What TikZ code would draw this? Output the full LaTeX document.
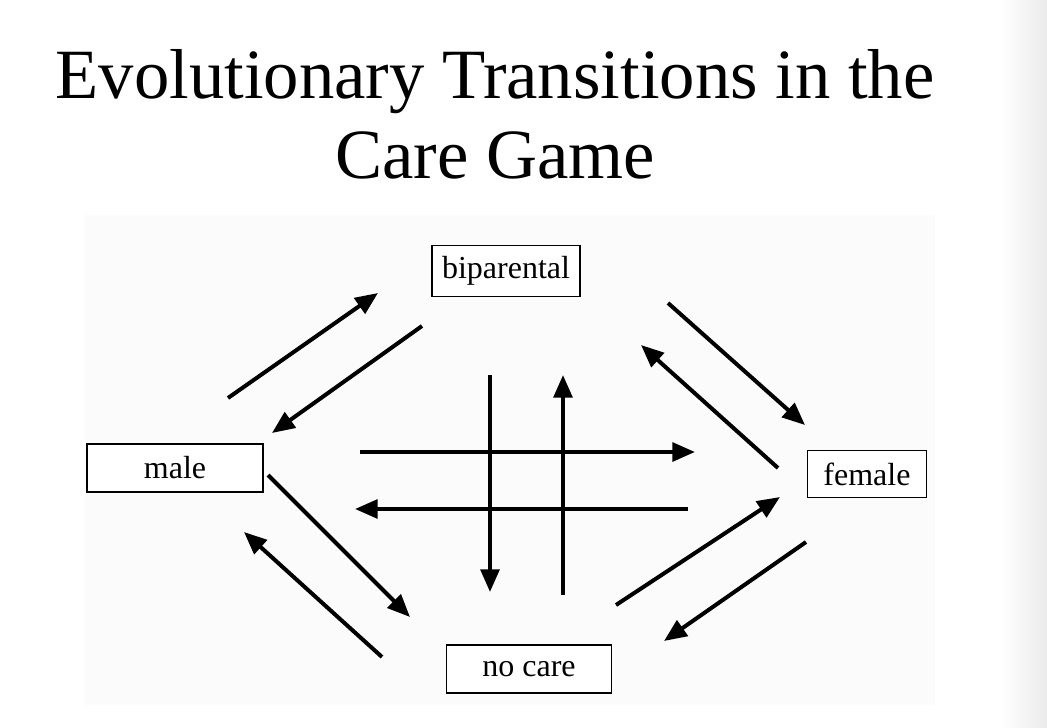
\documentclass[tikz,border=0pt]{standalone}
\usepackage{fontspec}
\setmainfont{Liberation Serif}
\usetikzlibrary{arrows.meta}
\begin{document}
\begin{tikzpicture}[x=0.75pt,y=-0.75pt,
  box/.style={draw,line width=1pt,font=\fontsize{24}{28}\selectfont,inner sep=0pt},
  arr/.style={line width=3pt,-{Triangle[length=17pt,width=14pt]}}]
\useasboundingbox (0,0) rectangle (1047,728);
\fill[white] (0,0) rectangle (1047,728);
\fill[black!1.5] (85,215) rectangle (935,705);
\shade[left color=white,right color=black!8] (1000,0) rectangle (1047,728);
\node[font=\fontsize{53}{60}\selectfont,align=center] (title) at (495,114) {Evolutionary Transitions in the\\Care Game};
\node[box,fill=white,minimum width=111pt,minimum height=38pt] (bi) at (506,271) {biparental};
\node[box,fill=white,minimum width=132pt,minimum height=36pt] (male) at (175,468) {male};
\node[box,fill=white,minimum width=89pt,minimum height=35pt] (female) at (867,474) {female};
\node[box,fill=white,minimum width=124pt,minimum height=36pt] (nc) at (529,669) {no care};
\foreach \n/\a/\b/\c/\d in {1/228/398/378/293, 2/422/326/272/433, 3/668/303/805/425, 4/778/468/641/345,
  5/360/452/695/452, 6/688/509/355/509, 7/490/375/490/592, 8/563/595/563/375,
  9/268/475/410/617, 10/382/657/244/532, 11/616/605/780/497, 12/806/542/664/641}{
  \coordinate (s\n) at (\a,\b); \coordinate (e\n) at (\c,\d);
  \draw[arr] (s\n) -- (e\n);
}
\end{tikzpicture}
\end{document}
